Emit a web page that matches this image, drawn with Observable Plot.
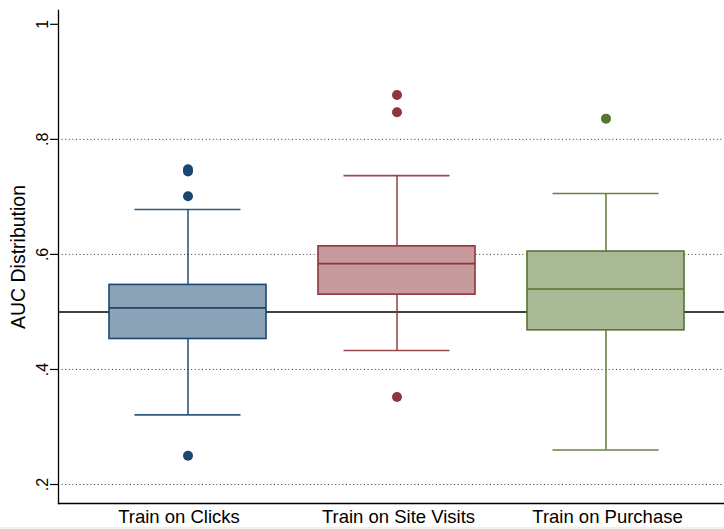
<!DOCTYPE html>
<html>
<head>
<meta charset="utf-8">
<script src="https://cdn.jsdelivr.net/npm/d3@7"></script>
<script src="https://cdn.jsdelivr.net/npm/@observablehq/plot@0.6"></script>
<style>
  html, body { margin: 0; padding: 0; background: #fff; }
  #chart svg { display: block; }
  #foot { height: 2px; background: #eef1f2; }
</style>
</head>
<body>
<div id="chart"></div>
<div id="foot"></div>
<script>
// Training condition for each box
const categories = ["Train on Clicks", "Train on Site Visits", "Train on Purchase"];

// Box-plot summary statistics of AUC per condition
const whiskerLow  = [0.321, 0.433, 0.260];
const quartile1   = [0.453, 0.530, 0.468];
const medians     = [0.507, 0.584, 0.540];
const quartile3   = [0.547, 0.614, 0.605];
const whiskerHigh = [0.678, 0.737, 0.706];

// Outside values
const outlierCategory = [
  "Train on Clicks", "Train on Clicks", "Train on Clicks", "Train on Clicks",
  "Train on Site Visits", "Train on Site Visits", "Train on Site Visits",
  "Train on Purchase"
];
const outlierValue = [0.748, 0.744, 0.701, 0.250, 0.877, 0.847, 0.352, 0.836];

// Axis ticks
const yTicks = [0.2, 0.4, 0.6, 0.8, 1];
const yTickLabels = [".2", ".4", ".6", ".8", "1"];
const gridTicks = [0.2, 0.4, 0.6, 0.8];
const referenceLevel = 0.5;

// Series colours (Stata s2color: navy, maroon, forest green)
const seriesColors = ["#1a476f", "#90353b", "#55752f"];

const boxes = categories.map((cat, i) => ({
  cat,
  lo: whiskerLow[i],
  q1: quartile1[i],
  med: medians[i],
  q3: quartile3[i],
  hi: whiskerHigh[i]
}));
const outliers = outlierValue.map((value, i) => ({cat: outlierCategory[i], value}));

const capInset = 25.5;
const labelStyle = {tickSize: 0, tickPadding: 6, label: null, fontSize: 18.5};

const chart = Plot.plot({
  width: 724,
  height: 527,
  marginLeft: 58,
  marginRight: 0,
  marginTop: 10,
  marginBottom: 24,
  style: {
    fontFamily: "'Liberation Sans', Arial, sans-serif",
    fontSize: "18px",
    color: "#000",
    background: "#fff"
  },
  x: {
    domain: categories,
    range: [58, 734],
    paddingInner: 0.249,
    paddingOuter: 0.2415,
    axis: null
  },
  y: {domain: [0.167, 1.024], axis: null},
  color: {type: "ordinal", domain: categories, range: seriesColors},
  marks: [
    // dotted grid
    Plot.ruleY(gridTicks, {stroke: "#333", strokeWidth: 1, strokeDasharray: "1,2.6"}),
    // reference line at AUC = .5
    Plot.ruleY([referenceLevel], {stroke: "#000", strokeWidth: 1.6}),
    // whiskers
    Plot.ruleX(boxes, {x: "cat", y1: "lo", y2: "q1", stroke: "cat", strokeWidth: 1.6, strokeOpacity: 0.9}),
    Plot.ruleX(boxes, {x: "cat", y1: "q3", y2: "hi", stroke: "cat", strokeWidth: 1.6, strokeOpacity: 0.9}),
    Plot.tickY(boxes, {x: "cat", y: "lo", stroke: "cat", strokeWidth: 1.6, strokeOpacity: 0.9, insetLeft: capInset, insetRight: capInset}),
    Plot.tickY(boxes, {x: "cat", y: "hi", stroke: "cat", strokeWidth: 1.6, strokeOpacity: 0.9, insetLeft: capInset, insetRight: capInset}),
    // interquartile boxes
    Plot.barY(boxes, {x: "cat", y1: "q1", y2: "q3", fill: "#fff"}),
    Plot.barY(boxes, {x: "cat", y1: "q1", y2: "q3", fill: "cat", fillOpacity: 0.5, stroke: "cat", strokeWidth: 1.6}),
    // medians
    Plot.tickY(boxes, {x: "cat", y: "med", stroke: "cat", strokeWidth: 1.6}),
    // outside values
    Plot.dot(outliers, {x: "cat", y: "value", r: 5, fill: "cat"}),
    // axes
    Plot.frame({anchor: "left", stroke: "#000", strokeWidth: 1.3}),
    Plot.frame({anchor: "bottom", stroke: "#000", strokeWidth: 1.3}),
    Plot.axisY(yTicks, {
      tickSize: 8,
      tickRotate: -90,
      tickFormat: (d) => yTickLabels[yTicks.indexOf(d)],
      label: null,
      fontSize: 16,
      strokeWidth: 1.2
    }),
    // category labels (the first one sits slightly left of its box)
    Plot.axisX(categories.slice(0, 1), {...labelStyle, dx: -9}),
    Plot.axisX(categories.slice(1), {...labelStyle, dx: 1.5}),
    Plot.text(["AUC Distribution"], {
      frameAnchor: "left",
      dx: -40,
      rotate: -90,
      textAnchor: "middle",
      fontSize: 19.5
    })
  ]
});

document.getElementById("chart").appendChild(chart);
</script>
</body>
</html>
